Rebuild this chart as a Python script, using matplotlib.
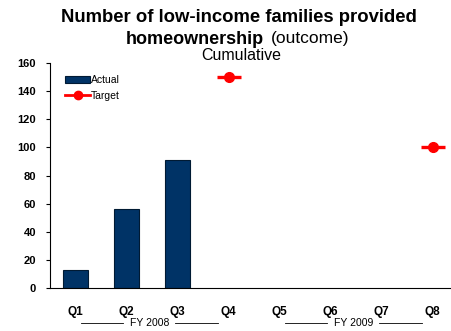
import numpy as np
import matplotlib
matplotlib.use('Agg')
from matplotlib import pyplot as plt
from matplotlib.lines import Line2D
from matplotlib.patches import Patch
from matplotlib.transforms import blended_transform_factory

plt.rcParams['font.family'] = ['Liberation Sans', 'DejaVu Sans']

# Data
quarters = ['Q1', 'Q2', 'Q3', 'Q4', 'Q5', 'Q6', 'Q7', 'Q8']
actual = [13, 56, 91, np.nan, np.nan, np.nan, np.nan, np.nan]
target = [np.nan, np.nan, np.nan, 150, np.nan, np.nan, np.nan, 100]
fiscal_years = ['FY 2008', 'FY 2009']
yticks = [0, 20, 40, 60, 80, 100, 120, 140, 160]

bar_color = '#003366'
red = '#ff0000'

fig = plt.figure(figsize=(4.51, 3.31), dpi=100)
ax = fig.add_axes([50 / 451, 43 / 331, 408 / 451, 225 / 331])

x = np.arange(len(quarters))
ax.bar(x, actual, width=0.5, color=bar_color, edgecolor='#001a33', linewidth=0.8)
# target: dot with a short dash through it
ax.plot(x, target, linestyle='none', marker='_', markersize=17, mew=2.4, color=red)
ax.plot(x, target, linestyle='none', marker='o', markersize=7, color=red)

ax.set_xlim(-0.5, len(quarters) - 0.5)
ax.set_ylim(0, 160)
ax.set_yticks(yticks)
ax.set_xticks(x)
ax.set_xticklabels(quarters, fontsize=8.5, fontweight='bold')
ax.tick_params(axis='x', length=0, pad=13)
ax.tick_params(axis='y', length=3, width=0.8, labelsize=8, pad=7)
for lab in ax.get_yticklabels():
    lab.set_fontweight('bold')
ax.spines['top'].set_visible(False)
ax.spines['right'].set_visible(False)
ax.spines['left'].set_linewidth(0.8)
ax.spines['bottom'].set_linewidth(0.8)

# fiscal year groupings under the quarters
tr = blended_transform_factory(ax.transData, ax.transAxes)
ybr = -0.157
for i, fy in enumerate(fiscal_years):
    c = i * 4 + 1.45
    ax.text(c, ybr, fy, transform=tr, ha='center', va='center', fontsize=7.5)
    ax.plot([c - 1.35, c - 0.51], [ybr, ybr], transform=tr, color='black', lw=0.6, clip_on=False)
    ax.plot([c + 0.51, c + 1.35], [ybr, ybr], transform=tr, color='black', lw=0.6, clip_on=False)

handles = [Patch(facecolor=bar_color, edgecolor='#001a33', linewidth=0.8),
           Line2D([0], [0], color=red, lw=2, marker='o', markersize=6)]
ax.legend(handles, ['Actual', 'Target'], loc='upper left', bbox_to_anchor=(0.037, 0.945),
          frameon=False, fontsize=7.5, handlelength=2.4, handleheight=0.7,
          handletextpad=0.05, labelspacing=0.5, borderaxespad=0, borderpad=0)

fig.text(239 / 451, 1 - 18 / 331, 'Number of low-income families provided',
         ha='center', va='center', fontsize=13.3, fontweight='bold')
fig.text(264 / 451, 1 - 39 / 331, 'homeownership', ha='right', va='center',
         fontsize=13, fontweight='bold')
fig.text(271 / 451, 1 - 39 / 331, '(outcome)', ha='left', va='center', fontsize=12.5)
fig.text(241 / 451, 1 - 55 / 331, 'Cumulative', ha='center', va='center', fontsize=11.5)

fig.savefig('out.png', dpi=100)
